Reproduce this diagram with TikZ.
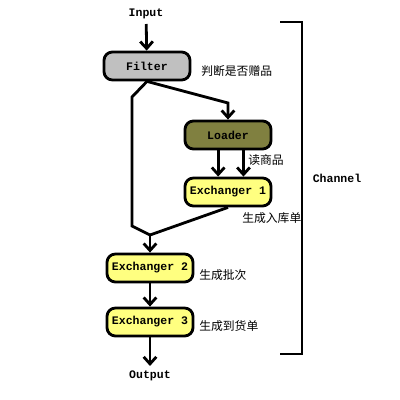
\documentclass[tikz,border=0pt]{standalone}
\usepackage{fontspec}
\setmonofont{Liberation Mono}
\newfontfamily\cjk{Noto Sans CJK SC}
\usetikzlibrary{arrows.meta}

\definecolor{filtergray}{HTML}{C0C0C0}
\definecolor{loaderolive}{HTML}{808040}
\definecolor{exyellow}{HTML}{FFFF80}

\tikzset{
  stage/.style={draw, line width=2pt, rounded corners=6pt, minimum width=2.15cm,
    minimum height=0.7cm, font=\ttfamily\bfseries\fontsize{8.2}{10}\selectfont},
  tag/.style={font=\ttfamily\bfseries\fontsize{8.2}{10}\selectfont},
  note/.style={anchor=west, inner sep=0pt, font=\cjk\fontsize{8.4}{10}\selectfont},
  wire/.style={line width=2pt},
  flow/.style={line width=2pt, -{Straight Barb[length=5pt,width=9pt]}}
}

\begin{document}
\begin{tikzpicture}[x=0.025cm, y=-0.025cm]
  \useasboundingbox (0,0) rectangle (400,400);

  \node[tag] (in) at (146,14) {Input};
  \node[stage, fill=filtergray] (filter) at (147,66) {Filter};
  \node[note] (judge) at (201,71) {判断是否赠品};

  \node[stage, fill=loaderolive] (loader) at (228,135) {Loader};
  \node[note] (read) at (248,160) {读商品};
  \node[stage, fill=exyellow] (ex1) at (228,192) {Exchanger 1};
  \node[note] (gen1) at (242,218) {生成入库单};

  \node[stage, fill=exyellow] (ex2) at (150,268) {Exchanger 2};
  \node[note] (gen2) at (199,275) {生成批次};
  \node[stage, fill=exyellow] (ex3) at (150,322) {Exchanger 3};
  \node[note] (gen3) at (199,326) {生成到货单};
  \node[tag] (out) at (150,376) {Output};

  \node[tag] (chan) at (337,178) {Channel};

  \coordinate (ld) at (228,103);
  \coordinate (lt) at (132,97);
  \coordinate (lb) at (132,226);
  \coordinate (mg) at (150,235);

  \draw[flow] (in) -- (filter);
  \draw[flow] (filter.south) -- (ld) -- (loader.north);
  \draw[wire] (filter.south) -- (lt) -- (lb) -- (mg);
  \draw[flow] ([xshift=-7pt]loader.south) -- ([xshift=-7pt]ex1.north);
  \draw[flow] ([xshift=11pt]loader.south) -- ([xshift=11pt]ex1.north);
  \draw[wire] (ex1.south) -- (mg);
  \draw[flow] (mg) -- (ex2);
  \draw[flow] (ex2) -- (ex3);
  \draw[flow] (ex3) -- (out);

  % channel bracket
  \draw[wire] (280,22) -- (302,22) -- (302,354) -- (280,354);
\end{tikzpicture}
\end{document}
